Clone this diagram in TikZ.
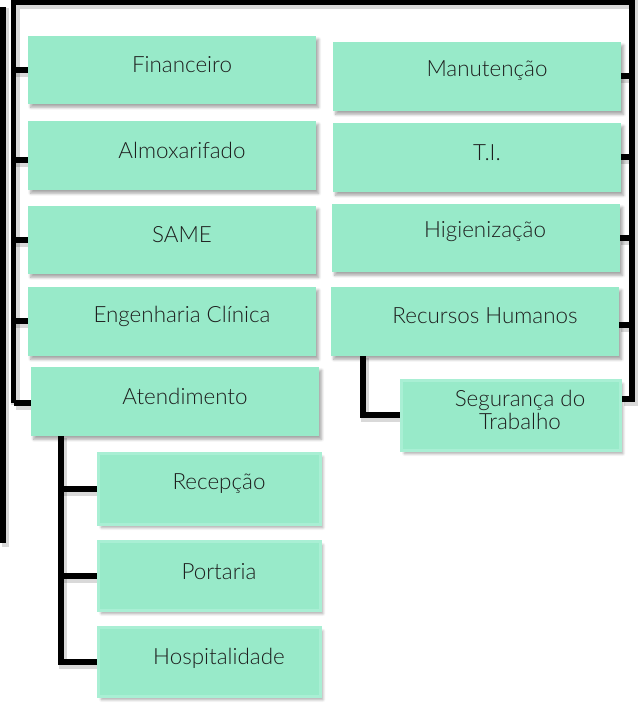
\documentclass[tikz,border=0pt]{standalone}
\usepackage{fontspec}
\setmainfont{Lato}[UprightFont={* Light}]
\usetikzlibrary{shadows.blur,fit}
\definecolor{mint}{HTML}{98EAC9}
\definecolor{mintlight}{HTML}{A9EFD4}
\definecolor{txt}{HTML}{1E1E1E}
\tikzset{
  box/.style={fill=mint, draw=none, inner sep=0pt,
    blur shadow={shadow xshift=2pt, shadow yshift=-2.5pt, shadow blur steps=6, shadow opacity=35}},
  subbox/.style={box, draw=mintlight, line width=2.6pt, inner sep=-1.3pt},
  lbl/.style={text=txt, font=\fontsize{16.8}{17}\selectfont, align=center, inner sep=0pt},
  conn/.style={line width=3.8pt, draw=black,
    preaction={draw=black, draw opacity=0.15, line width=6.5pt, transform canvas={shift={(1.5pt,-1.8pt)}}}},
}
\newcommand{\bx}[5]{\node[box, fit={(#2,#3)(#4,#5)}] (#1) {};}
\newcommand{\sbx}[5]{\node[subbox, fit={(#2,#3)(#4,#5)}] (#1) {};}
\begin{document}
\begin{tikzpicture}[x=0.75pt,y=-0.75pt]
\useasboundingbox (0,0) rectangle (641,707);
% anchor coordinates
\coordinate (ltop) at (13.5,2);
\coordinate (lbot) at (13.5,403);
\coordinate (rtop) at (632,2);
\coordinate (rbot) at (632,399);
\coordinate (otop) at (3,10);
\coordinate (obot) at (3,540);
\coordinate (ab) at (61,662);
\coordinate (rv) at (363,415);
% connectors
\draw[conn] (0,10) -- (otop) -- (obot) -- (0,540);
\draw[conn] (0,180) -- (otop |- 0,180);
\draw[conn] (ltop |- 0,403) -- (31,403);
\draw[conn] (ltop |- 0,403) -- (ltop) -- (rtop) -- (rbot) -- (622,399);
\foreach \yy in {70,160,240,321} {\draw[conn] (ltop |- 0,\yy) -- (28,\yy);}
\foreach \yy in {76,157,238,325} {\draw[conn] (rtop |- 0,\yy) -- (619,\yy);}
\draw[conn] (ab |- 0,436) -- (ab) -- (97,662);
\draw[conn] (ab |- 0,489) -- (97,489);
\draw[conn] (ab |- 0,576) -- (97,576);
\draw[conn] (rv |- 0,356) -- (rv) -- (400,415);
% boxes
\bx{fin}{28}{36}{316}{104}
\bx{alm}{28}{121}{316}{190}
\bx{same}{28}{206}{316}{274}
\bx{eng}{28}{287}{316}{356}
\bx{ate}{31}{367}{319}{436}
\sbx{rec}{97}{452}{322}{526}
\sbx{por}{97}{540}{322}{612}
\sbx{hos}{97}{626}{322}{698}
\bx{man}{333}{42}{621}{111}
\bx{ti}{333}{123}{621}{192}
\bx{hig}{332}{204}{620}{272}
\bx{rh}{331}{287}{619}{356}
\sbx{seg}{400}{379}{622}{452}
% labels
\node[lbl] (fint) at (182,65) {Financeiro};
\node[lbl] (almt) at (182,150) {Almoxarifado};
\node[lbl] (samet) at (182,235) {SAME};
\node[lbl] (engt) at (182,316) {Engenharia Clínica};
\node[lbl] (atet) at (185,396) {Atendimento};
\node[lbl] (rect) at (219,484) {Recepção};
\node[lbl] (port) at (219,572) {Portaria};
\node[lbl] (host) at (219,658) {Hospitalidade};
\node[lbl] (mant) at (487,71) {Manutenção};
\node[lbl] (tit) at (487,153) {T.I.};
\node[lbl] (higt) at (485,232) {Higienização};
\node[lbl] (rht) at (485,316) {Recursos Humanos};
\node[lbl] (segt) at (520,410) {Segurança do\\Trabalho};
\end{tikzpicture}
\end{document}
